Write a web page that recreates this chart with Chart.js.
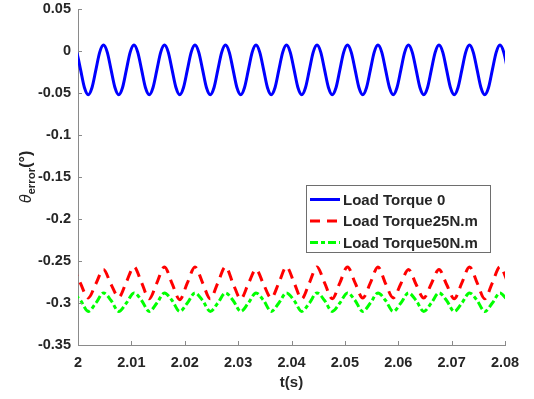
<!DOCTYPE html>
<html>
<head>
<meta charset="utf-8">
<script src="https://cdn.jsdelivr.net/npm/chart.js@4.4.0/dist/chart.umd.min.js"></script>
<style>
  html, body { margin: 0; padding: 0; background: #fff; }
</style>
</head>
<body>
<canvas id="chart" width="534" height="399"></canvas>
<script>
// --- Data ---
// sample times (s) for the no-load curve, eight per period
const timeFine = [
  1.99906, 1.99977, 2.00049, 2.00120, 2.00192, 2.00263, 2.00335, 2.00406,
  2.00478, 2.00549, 2.00620, 2.00692, 2.00763, 2.00835, 2.00906, 2.00977,
  2.01049, 2.01120, 2.01192, 2.01263, 2.01335, 2.01406, 2.01478, 2.01549,
  2.01620, 2.01692, 2.01763, 2.01835, 2.01906, 2.01977, 2.02049, 2.02120,
  2.02192, 2.02263, 2.02335, 2.02406, 2.02478, 2.02549, 2.02620, 2.02692,
  2.02763, 2.02835, 2.02906, 2.02977, 2.03049, 2.03120, 2.03192, 2.03263,
  2.03335, 2.03406, 2.03478, 2.03549, 2.03620, 2.03692, 2.03763, 2.03835,
  2.03906, 2.03977, 2.04049, 2.04120, 2.04192, 2.04263, 2.04335, 2.04406,
  2.04478, 2.04549, 2.04620, 2.04692, 2.04763, 2.04835, 2.04906, 2.04977,
  2.05049, 2.05120, 2.05192, 2.05263, 2.05335, 2.05406, 2.05478, 2.05549,
  2.05620, 2.05692, 2.05763, 2.05835, 2.05906, 2.05977, 2.06049, 2.06120,
  2.06192, 2.06263, 2.06335, 2.06406, 2.06478, 2.06549, 2.06620, 2.06692,
  2.06763, 2.06835, 2.06906, 2.06977, 2.07049, 2.07120, 2.07192, 2.07263,
  2.07335, 2.07406, 2.07478, 2.07549, 2.07620, 2.07692, 2.07763, 2.07835,
  2.07906, 2.07977, 2.08049
];

// sample times (s) for the loaded curves, four per period
const timeCoarse = [
  1.99906, 2.00049, 2.00192, 2.00335, 2.00478, 2.00620, 2.00763, 2.00906,
  2.01049, 2.01192, 2.01335, 2.01478, 2.01620, 2.01763, 2.01906, 2.02049,
  2.02192, 2.02335, 2.02478, 2.02620, 2.02763, 2.02906, 2.03049, 2.03192,
  2.03335, 2.03478, 2.03620, 2.03763, 2.03906, 2.04049, 2.04192, 2.04335,
  2.04478, 2.04620, 2.04763, 2.04906, 2.05049, 2.05192, 2.05335, 2.05478,
  2.05620, 2.05763, 2.05906, 2.06049, 2.06192, 2.06335, 2.06478, 2.06620,
  2.06763, 2.06906, 2.07049, 2.07192, 2.07335, 2.07478, 2.07620, 2.07763,
  2.07906, 2.08049
];

const torque0 = [
  0.007, -0.0016, -0.0225, -0.0434, -0.052, -0.0434, -0.0225, -0.0016,
  0.007, -0.0016, -0.0225, -0.0434, -0.052, -0.0434, -0.0225, -0.0016,
  0.007, -0.0016, -0.0225, -0.0434, -0.052, -0.0434, -0.0225, -0.0016,
  0.007, -0.0016, -0.0225, -0.0434, -0.052, -0.0434, -0.0225, -0.0016,
  0.007, -0.0016, -0.0225, -0.0434, -0.052, -0.0434, -0.0225, -0.0016,
  0.007, -0.0016, -0.0225, -0.0434, -0.052, -0.0434, -0.0225, -0.0016,
  0.007, -0.0016, -0.0225, -0.0434, -0.052, -0.0434, -0.0225, -0.0016,
  0.007, -0.0016, -0.0225, -0.0434, -0.052, -0.0434, -0.0225, -0.0016,
  0.007, -0.0016, -0.0225, -0.0434, -0.052, -0.0434, -0.0225, -0.0016,
  0.007, -0.0016, -0.0225, -0.0434, -0.052, -0.0434, -0.0225, -0.0016,
  0.007, -0.0016, -0.0225, -0.0434, -0.052, -0.0434, -0.0225, -0.0016,
  0.007, -0.0016, -0.0225, -0.0434, -0.052, -0.0434, -0.0225, -0.0016,
  0.007, -0.0016, -0.0225, -0.0434, -0.052, -0.0434, -0.0225, -0.0016,
  0.007, -0.0016, -0.0225, -0.0434, -0.052, -0.0434, -0.0225, -0.0016,
  0.007, -0.0016, -0.0225
];

const torque25 = [
  -0.257, -0.277, -0.294, -0.277, -0.260, -0.278, -0.293, -0.275,
  -0.257, -0.276, -0.295, -0.276, -0.257, -0.277, -0.296, -0.276,
  -0.257, -0.276, -0.295, -0.276, -0.257, -0.277, -0.295, -0.277,
  -0.260, -0.278, -0.294, -0.276, -0.257, -0.276, -0.295, -0.276,
  -0.257, -0.276, -0.295, -0.276, -0.257, -0.276, -0.294, -0.276,
  -0.257, -0.277, -0.294, -0.277, -0.260, -0.278, -0.294, -0.277,
  -0.260, -0.278, -0.295, -0.276, -0.257, -0.276, -0.295, -0.276,
  -0.257, -0.275
];

const torque50 = [
  -0.288, -0.297, -0.310, -0.300, -0.288, -0.297, -0.310, -0.300,
  -0.288, -0.297, -0.310, -0.300, -0.288, -0.297, -0.310, -0.300,
  -0.288, -0.297, -0.310, -0.300, -0.288, -0.297, -0.310, -0.300,
  -0.288, -0.297, -0.310, -0.300, -0.288, -0.297, -0.310, -0.300,
  -0.288, -0.297, -0.310, -0.300, -0.288, -0.297, -0.310, -0.300,
  -0.288, -0.297, -0.310, -0.300, -0.288, -0.297, -0.310, -0.300,
  -0.288, -0.297, -0.310, -0.300, -0.288, -0.297, -0.310, -0.300,
  -0.288, -0.297
];

const seriesNames = ["Load Torque 0", "Load Torque25N.m", "Load Torque50N.m"];
const xTicks = [2, 2.01, 2.02, 2.03, 2.04, 2.05, 2.06, 2.07, 2.08];
const yTicks = [0.05, 0, -0.05, -0.1, -0.15, -0.2, -0.25, -0.3, -0.35];

const FONT = '"Liberation Sans", Arial, sans-serif';
const TEXT = "#262626";
const AXIS = "#8a8a8a";

const toPoints = (times, vals) => vals.map((v, i) => ({ x: times[i], y: v }));
const fmt = (v) => String(Number(v.toFixed(2)));

// inward ticks, axis titles and the boxed legend, drawn MATLAB-style
const matlabExtras = {
  id: "matlabExtras",
  afterDraw(chart) {
    const { ctx, chartArea: a, scales } = chart;
    ctx.save();

    // tick marks pointing into the plot
    ctx.strokeStyle = AXIS;
    ctx.lineWidth = 1;
    ctx.beginPath();
    xTicks.forEach((t) => {
      const px = Math.round(scales.x.getPixelForValue(t)) + 0.5;
      ctx.moveTo(px, a.bottom);
      ctx.lineTo(px, a.bottom - 4);
    });
    yTicks.forEach((t) => {
      const py = Math.round(scales.y.getPixelForValue(t)) + 0.5;
      ctx.moveTo(a.left, py);
      ctx.lineTo(a.left + 4, py);
    });
    ctx.stroke();

    // x title
    ctx.fillStyle = TEXT;
    ctx.font = "bold 15px " + FONT;
    ctx.textAlign = "center";
    ctx.textBaseline = "middle";
    ctx.fillText("t(s)", (a.left + a.right) / 2, 383);

    // y title: θ_error(°), rotated
    const parts = [
      { s: "θ", f: "italic 16px " + FONT, dy: 0 },
      { s: "error", f: "bold 11.5px " + FONT, dy: 4 },
      { s: "(°)", f: "bold 16px " + FONT, dy: 0 },
    ];
    let total = 0;
    parts.forEach((p) => {
      ctx.font = p.f;
      p.w = ctx.measureText(p.s).width;
      total += p.w;
    });
    ctx.translate(31, (a.top + a.bottom) / 2);
    ctx.rotate(-Math.PI / 2);
    ctx.textAlign = "left";
    ctx.textBaseline = "alphabetic";
    let cx = -total / 2;
    parts.forEach((p) => {
      ctx.font = p.f;
      ctx.fillText(p.s, cx, p.dy);
      cx += p.w;
    });
    ctx.setTransform(1, 0, 0, 1, 0, 0);

    // legend box
    const box = { x: 306.5, y: 185.5, w: 184, h: 67 };
    ctx.fillStyle = "#fff";
    ctx.fillRect(box.x, box.y, box.w, box.h);
    ctx.strokeStyle = "#6e6e6e";
    ctx.lineWidth = 1;
    ctx.strokeRect(box.x, box.y, box.w, box.h);

    const rows = [199.5, 221, 242.5];
    chart.data.datasets.forEach((ds, i) => {
      const y = rows[i];
      ctx.strokeStyle = ds.borderColor;
      ctx.lineWidth = ds.borderWidth;
      ctx.setLineDash(ds.borderDash || []);
      ctx.beginPath();
      ctx.moveTo(310, y);
      ctx.lineTo(340, y);
      ctx.stroke();
      ctx.setLineDash([]);
      ctx.fillStyle = TEXT;
      ctx.font = "bold 15px " + FONT;
      ctx.textAlign = "left";
      ctx.textBaseline = "middle";
      ctx.fillText(ds.label, 343, y + 1);
    });

    ctx.restore();
  },
};

new Chart(document.getElementById("chart"), {
  type: "line",
  data: {
    datasets: [
      {
        label: seriesNames[0],
        data: toPoints(timeFine, torque0),
        borderColor: "#0000ff",
        borderWidth: 3,
      },
      {
        label: seriesNames[1],
        data: toPoints(timeCoarse, torque25),
        borderColor: "#ff0000",
        borderWidth: 3,
        borderDash: [10, 7],
      },
      {
        label: seriesNames[2],
        data: toPoints(timeCoarse, torque50),
        borderColor: "#00ff00",
        borderWidth: 3,
        borderDash: [8, 3, 4, 3],
      },
    ],
  },
  options: {
    responsive: false,
    animation: false,
    layout: { padding: { top: 9, right: 29, left: 0, bottom: 0 } },
    elements: {
      point: { radius: 0 },
      line: { cubicInterpolationMode: "monotone", fill: false },
    },
    datasets: { line: { clip: 0 } },
    plugins: {
      legend: { display: false },
      tooltip: { enabled: false },
    },
    scales: {
      x: {
        type: "linear",
        min: 2,
        max: 2.08,
        afterBuildTicks: (s) => { s.ticks = xTicks.map((v) => ({ value: v })); },
        afterFit: (s) => {
          s.height = 54;
          s.paddingLeft = 0;
          s.paddingRight = 0;
        },
        grid: { display: false, drawTicks: false },
        border: { display: true, color: AXIS, width: 1 },
        ticks: {
          padding: 9,
          color: TEXT,
          font: { family: FONT, size: 14.5, weight: "bold" },
          maxRotation: 0,
          autoSkip: false,
          callback: (v) => fmt(v),
        },
      },
      y: {
        type: "linear",
        min: -0.35,
        max: 0.05,
        afterBuildTicks: (s) => { s.ticks = yTicks.map((v) => ({ value: v })); },
        afterFit: (s) => {
          s.width = 78;
          s.paddingTop = 0;
          s.paddingBottom = 0;
        },
        grid: { display: false, drawTicks: false },
        border: { display: true, color: AXIS, width: 1 },
        ticks: {
          padding: 7,
          color: TEXT,
          font: { family: FONT, size: 14.5, weight: "bold" },
          autoSkip: false,
          callback: (v) => fmt(v),
        },
      },
    },
  },
  plugins: [matlabExtras],
});
</script>
</body>
</html>
